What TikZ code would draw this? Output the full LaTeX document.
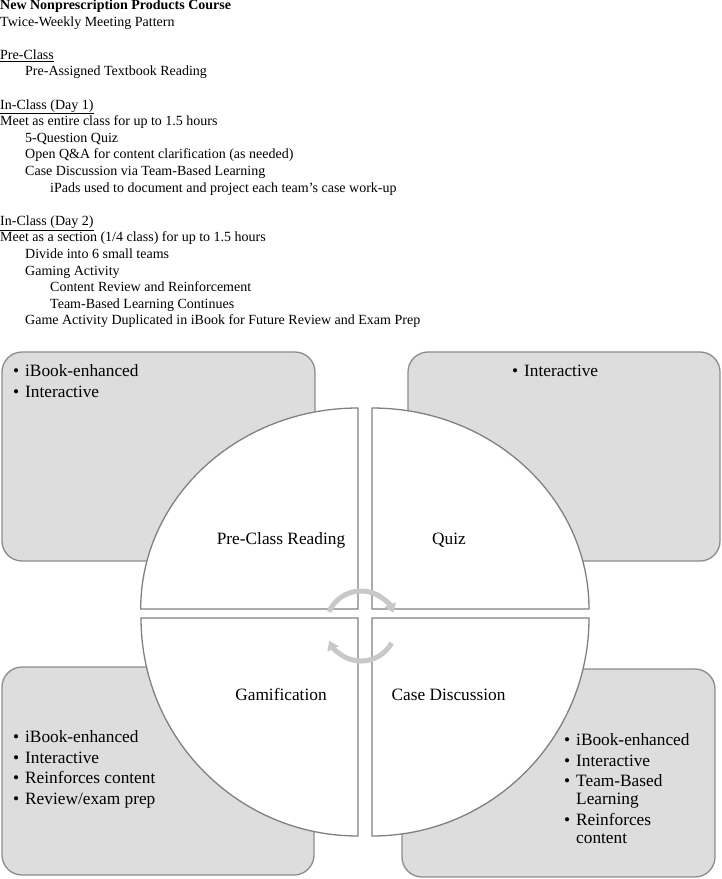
\documentclass[tikz,border=0pt]{standalone}
\usepackage{fontspec}
\setmainfont{Liberation Serif}
\usetikzlibrary{arrows.meta,calc}
\definecolor{boxfill}{HTML}{DDDDDD}
\definecolor{boxline}{HTML}{8C8C8C}
\definecolor{qline}{HTML}{808080}
\definecolor{arrowc}{HTML}{C8C8C8}
\begin{document}
\begin{tikzpicture}[x=1pt,y=1pt,
  toptext/.style={anchor=base west, inner sep=0pt, font=\fontsize{14}{16.6}\selectfont},
  cornerbox/.style={draw=boxline, fill=boxfill, line width=1.3pt, rounded corners=20pt, inner sep=0pt},
  quarter/.style={draw=qline, fill=white, line width=1.3pt},
  bul/.style={anchor=base west, inner sep=0pt, font=\fontsize{17.3}{20}\selectfont},
  lab/.style={anchor=base, inner sep=0pt, font=\fontsize{17.3}{20}\selectfont},
  cyc/.style={draw=arrowc, line width=5pt, -{Triangle[length=9pt,width=12pt]}}
]
\useasboundingbox (0,0) rectangle (722,-879);

% ---- header text ----
\node[toptext] (t0)  at (0,-9.5)   {\textbf{New Nonprescription Products Course}};
\node[toptext] (t1)  at (0,-26.1)  {Twice-Weekly Meeting Pattern};
\node[toptext] (t3)  at (0,-59.3)  {\underline{Pre-Class}};
\node[toptext] (t4)  at (25,-75.9) {Pre-Assigned Textbook Reading};
\node[toptext] (t6)  at (0,-109.1) {\underline{In-Class (Day 1)}};
\node[toptext] (t7)  at (0,-125.7) {Meet as entire class for up to 1.5 hours};
\node[toptext] (t8)  at (25,-142.3) {5-Question Quiz};
\node[toptext] (t9)  at (25,-158.9) {Open Q\&A for content clarification (as needed)};
\node[toptext] (t10) at (25,-175.5) {Case Discussion via Team-Based Learning};
\node[toptext] (t11) at (50,-192.1) {iPads used to document and project each team’s case work-up};
\node[toptext] (t13) at (0,-225.3) {\underline{In-Class (Day 2)}};
\node[toptext] (t14) at (0,-241.9) {Meet as a section (1/4 class) for up to 1.5 hours};
\node[toptext] (t15) at (25,-258.5) {Divide into 6 small teams};
\node[toptext] (t16) at (25,-275.1) {Gaming Activity};
\node[toptext] (t17) at (50,-291.7) {Content Review and Reinforcement};
\node[toptext] (t18) at (50,-308.3) {Team-Based Learning Continues};
\node[toptext] (t19) at (25,-324.9) {Game Activity Duplicated in iBook for Future Review and Exam Prep};

% ---- corner boxes ----
\node[cornerbox, minimum width=313pt, minimum height=209pt] (boxTL) at (158.5,-456.5) {};
\node[cornerbox, minimum width=312pt, minimum height=209pt] (boxTR) at (564,-456.5) {};
\node[cornerbox, minimum width=312pt, minimum height=208pt] (boxBL) at (158,-771) {};
\node[cornerbox, minimum width=313pt, minimum height=208pt] (boxBR) at (558.5,-773) {};

% box texts
\node[bul] (tl1) at (13,-376.7) {\makebox[12pt][l]{\textbullet}iBook-enhanced};
\node[bul] (tl2) at (13,-397.4) {\makebox[12pt][l]{\textbullet}Interactive};

\node[bul] (tr1) at (512,-376.7) {\makebox[12pt][l]{\textbullet}Interactive};

\node[bul] (bl1) at (13,-742.5) {\makebox[12pt][l]{\textbullet}iBook-enhanced};
\node[bul] (bl2) at (13,-763.2) {\makebox[12pt][l]{\textbullet}Interactive};
\node[bul] (bl3) at (13,-783.9) {\makebox[12pt][l]{\textbullet}Reinforces content};
\node[bul] (bl4) at (13,-804.6) {\makebox[12pt][l]{\textbullet}Review/exam prep};

\node[bul] (br1) at (564,-745.5) {\makebox[12pt][l]{\textbullet}iBook-enhanced};
\node[bul] (br2) at (564,-766.2) {\makebox[12pt][l]{\textbullet}Interactive};
\node[bul] (br3) at (564,-786.9) {\makebox[12pt][l]{\textbullet}Team-Based};
\node[bul] (br3b) at (576,-804.5) {Learning};
\node[bul] (br4) at (564,-825.7) {\makebox[12pt][l]{\textbullet}Reinforces};
\node[bul] (br4b) at (576,-843.3) {content};

% ---- quarter pies ----
\draw[quarter] (358,-609) -- (358,-408) arc[start angle=90, end angle=180, x radius=217.3, y radius=201] -- cycle;
\draw[quarter] (372,-609) -- (372,-408) arc[start angle=90, end angle=0, x radius=217, y radius=201] -- cycle;
\draw[quarter] (358,-618) -- (358,-836) arc[start angle=270, end angle=180, x radius=217, y radius=218] -- cycle;
\draw[quarter] (372,-618) -- (372,-836) arc[start angle=270, end angle=360, x radius=217, y radius=218] -- cycle;

\node[lab] (lPre)  at (281,-544) {Pre-Class Reading};
\node[lab] (lQuiz) at (449,-544) {Quiz};
\node[lab] (lGame) at (281,-700) {Gamification};
\node[lab] (lCase) at (448.5,-700) {Case Discussion};

% ---- cycle arrows ----
\coordinate (cc) at (361,-626);
\draw[cyc] ($(cc)+(156:35)$) arc[start angle=156, end angle=22, radius=35];
\draw[cyc] ($(cc)+(-29:35)$) arc[start angle=-29, end angle=-155, radius=35];
\end{tikzpicture}
\end{document}
